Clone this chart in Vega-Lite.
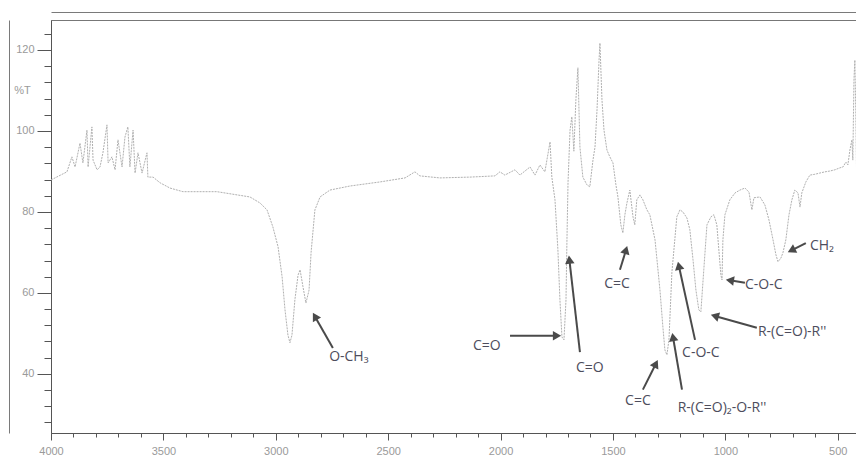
{
  "$schema": "https://vega.github.io/schema/vega-lite/v6.json",
  "width": 807,
  "height": 413,
  "autosize": {"type": "none"},
  "padding": {"left": 51, "top": 20, "right": 0, "bottom": 39},
  "background": "#ffffff",
  "config": {
    "view": {"stroke": "#777777", "strokeWidth": 1},
    "font": "Liberation Sans"
  },
  "resolve": {"axis": {"x": "independent", "y": "independent"}},
  "datasets": {
    "spectrum": [
      {"w": 4000, "T": 87.9}, {"w": 3929, "T": 89.9}, {"w": 3907, "T": 93.6}, {"w": 3893, "T": 91.1},
      {"w": 3871, "T": 97.0}, {"w": 3858, "T": 92.1}, {"w": 3840, "T": 100.2}, {"w": 3835, "T": 91.1},
      {"w": 3818, "T": 101.0}, {"w": 3813, "T": 92.8}, {"w": 3795, "T": 90.4}, {"w": 3782, "T": 91.1},
      {"w": 3769, "T": 94.6}, {"w": 3751, "T": 101.5}, {"w": 3746, "T": 92.1}, {"w": 3729, "T": 93.6},
      {"w": 3715, "T": 90.4}, {"w": 3702, "T": 97.8}, {"w": 3684, "T": 91.1}, {"w": 3671, "T": 98.5},
      {"w": 3658, "T": 101.0}, {"w": 3649, "T": 91.1}, {"w": 3635, "T": 100.2}, {"w": 3626, "T": 89.6},
      {"w": 3613, "T": 94.6}, {"w": 3595, "T": 89.6}, {"w": 3573, "T": 94.6}, {"w": 3569, "T": 88.6},
      {"w": 3546, "T": 88.6}, {"w": 3515, "T": 87.2}, {"w": 3471, "T": 85.9}, {"w": 3413, "T": 85.0},
      {"w": 3262, "T": 85.0}, {"w": 3115, "T": 83.7}, {"w": 3070, "T": 82.2}, {"w": 3039, "T": 80.5},
      {"w": 3013, "T": 76.3}, {"w": 2990, "T": 71.4}, {"w": 2972, "T": 64.0}, {"w": 2959, "T": 55.8},
      {"w": 2946, "T": 49.6}, {"w": 2937, "T": 47.7}, {"w": 2928, "T": 49.6}, {"w": 2915, "T": 58.3},
      {"w": 2901, "T": 64.4}, {"w": 2892, "T": 65.7}, {"w": 2879, "T": 61.5}, {"w": 2866, "T": 57.5},
      {"w": 2852, "T": 60.7}, {"w": 2843, "T": 70.0}, {"w": 2826, "T": 80.5}, {"w": 2803, "T": 83.7},
      {"w": 2759, "T": 85.4}, {"w": 2670, "T": 86.4}, {"w": 2537, "T": 87.4}, {"w": 2425, "T": 88.4},
      {"w": 2381, "T": 89.9}, {"w": 2359, "T": 88.9}, {"w": 2270, "T": 88.4}, {"w": 2136, "T": 88.6},
      {"w": 2025, "T": 88.9}, {"w": 2003, "T": 89.9}, {"w": 1981, "T": 89.1}, {"w": 1936, "T": 90.4},
      {"w": 1914, "T": 89.1}, {"w": 1869, "T": 91.1}, {"w": 1847, "T": 89.1}, {"w": 1825, "T": 91.6},
      {"w": 1803, "T": 89.9}, {"w": 1780, "T": 97.3}, {"w": 1772, "T": 88.6}, {"w": 1758, "T": 83.0},
      {"w": 1745, "T": 70.6}, {"w": 1736, "T": 58.3}, {"w": 1727, "T": 49.1}, {"w": 1718, "T": 48.4},
      {"w": 1709, "T": 58.3}, {"w": 1705, "T": 72.3}, {"w": 1700, "T": 87.2}, {"w": 1691, "T": 100.2},
      {"w": 1683, "T": 103.5}, {"w": 1674, "T": 95.0}, {"w": 1665, "T": 107.7}, {"w": 1656, "T": 115.6},
      {"w": 1647, "T": 96.0}, {"w": 1634, "T": 88.6}, {"w": 1616, "T": 86.7}, {"w": 1603, "T": 86.2},
      {"w": 1589, "T": 92.8}, {"w": 1580, "T": 96.0}, {"w": 1571, "T": 105.2}, {"w": 1562, "T": 117.5},
      {"w": 1558, "T": 121.7}, {"w": 1549, "T": 107.7}, {"w": 1540, "T": 100.2}, {"w": 1527, "T": 95.3},
      {"w": 1514, "T": 93.6}, {"w": 1500, "T": 92.1}, {"w": 1487, "T": 86.7}, {"w": 1478, "T": 83.7},
      {"w": 1465, "T": 76.8}, {"w": 1456, "T": 74.8}, {"w": 1447, "T": 79.3}, {"w": 1438, "T": 82.2},
      {"w": 1425, "T": 85.4}, {"w": 1411, "T": 78.8}, {"w": 1403, "T": 76.8}, {"w": 1394, "T": 83.0},
      {"w": 1380, "T": 84.2}, {"w": 1367, "T": 83.0}, {"w": 1349, "T": 80.5}, {"w": 1336, "T": 79.3},
      {"w": 1313, "T": 73.1}, {"w": 1291, "T": 60.7}, {"w": 1278, "T": 51.6}, {"w": 1269, "T": 45.9},
      {"w": 1260, "T": 44.7}, {"w": 1251, "T": 48.4}, {"w": 1238, "T": 65.0}, {"w": 1225, "T": 73.1},
      {"w": 1216, "T": 78.8}, {"w": 1202, "T": 80.5}, {"w": 1189, "T": 80.0}, {"w": 1171, "T": 78.5},
      {"w": 1158, "T": 75.6}, {"w": 1144, "T": 68.2}, {"w": 1131, "T": 60.7}, {"w": 1118, "T": 55.8},
      {"w": 1109, "T": 55.3}, {"w": 1096, "T": 65.7}, {"w": 1082, "T": 76.8}, {"w": 1064, "T": 78.8},
      {"w": 1051, "T": 79.3}, {"w": 1038, "T": 76.8}, {"w": 1029, "T": 70.6}, {"w": 1020, "T": 64.4},
      {"w": 1015, "T": 63.2}, {"w": 1011, "T": 73.1}, {"w": 1002, "T": 79.3}, {"w": 980, "T": 83.0},
      {"w": 957, "T": 84.7}, {"w": 935, "T": 85.4}, {"w": 913, "T": 85.9}, {"w": 895, "T": 84.9},
      {"w": 882, "T": 80.5}, {"w": 873, "T": 83.5}, {"w": 846, "T": 83.7}, {"w": 824, "T": 81.7},
      {"w": 806, "T": 78.0}, {"w": 788, "T": 73.1}, {"w": 775, "T": 69.4}, {"w": 766, "T": 67.7},
      {"w": 753, "T": 68.6}, {"w": 744, "T": 69.9}, {"w": 731, "T": 73.1}, {"w": 717, "T": 79.3},
      {"w": 704, "T": 83.0}, {"w": 691, "T": 85.4}, {"w": 677, "T": 84.7}, {"w": 668, "T": 81.2},
      {"w": 660, "T": 84.7}, {"w": 642, "T": 87.4}, {"w": 624, "T": 89.1}, {"w": 602, "T": 89.3},
      {"w": 580, "T": 89.6}, {"w": 557, "T": 89.9}, {"w": 535, "T": 90.1}, {"w": 513, "T": 90.4},
      {"w": 490, "T": 90.9}, {"w": 477, "T": 91.1}, {"w": 464, "T": 92.3}, {"w": 455, "T": 91.6},
      {"w": 446, "T": 95.3}, {"w": 437, "T": 97.8}, {"w": 433, "T": 92.8}, {"w": 428, "T": 112.6},
      {"w": 424, "T": 117.5}, {"w": 420, "T": 105.2}, {"w": 415, "T": 83.7}
    ],
    "arrows": [
      {"label": "O-CH₃", "w": 2826, "T": 54.2, "w2": 2746, "T2": 46.4, "angle": 330},
      {"label": "C=O a", "w": 1749, "T": 49.4, "w2": 1958, "T2": 49.4, "angle": 90},
      {"label": "C=O b", "w": 1694, "T": 68.2, "w2": 1647, "T2": 45.4, "angle": 353.5},
      {"label": "C=C a", "w": 1442, "T": 70.6, "w2": 1469, "T2": 65.7, "angle": 16.3},
      {"label": "C=C b", "w": 1309, "T": 42.5, "w2": 1367, "T2": 36.1, "angle": 26.6},
      {"label": "ester", "w": 1233, "T": 49.1, "w2": 1193, "T2": 36.1, "angle": 350},
      {"label": "C-O-C a", "w": 1207, "T": 66.7, "w2": 1135, "T2": 48.4, "angle": 347.7},
      {"label": "ketone", "w": 1047, "T": 54.3, "w2": 860, "T2": 51.4, "angle": 285.8},
      {"label": "C-O-C b", "w": 980, "T": 63.1, "w2": 913, "T2": 62.5, "angle": 279},
      {"label": "CH₂", "w": 706, "T": 70.5, "w2": 642, "T2": 72.3, "angle": 243.4}
    ],
    "labels": [
      {"text": "O-CH₃", "w": 2675, "T": 44.2, "anchor": "center"},
      {"text": "C=O", "w": 2061, "T": 46.9, "anchor": "center"},
      {"text": "C=O", "w": 1603, "T": 41.5, "anchor": "center"},
      {"text": "C=C", "w": 1482, "T": 62.2, "anchor": "center"},
      {"text": "C=C", "w": 1389, "T": 33.3, "anchor": "center"},
      {"text": "R-(C=O)₂-O-R''", "w": 1015, "T": 31.6, "anchor": "center"},
      {"text": "C-O-C", "w": 1109, "T": 45.2, "anchor": "center"},
      {"text": "R-(C=O)-R''", "w": 855, "T": 50.4, "anchor": "left"},
      {"text": "C-O-C", "w": 913, "T": 62.0, "anchor": "left"},
      {"text": "CH₂", "w": 624, "T": 71.6, "anchor": "left"}
    ]
  },
  "encoding": {
    "x": {
      "field": "w", "type": "quantitative",
      "scale": {"domain": [4000, 410], "nice": false, "zero": false},
      "axis": null
    },
    "y": {
      "field": "T", "type": "quantitative",
      "scale": {"domain": [25.4, 127.4], "nice": false, "zero": false},
      "axis": null
    }
  },
  "layer": [
    {
      "data": {"name": "spectrum"},
      "mark": {"type": "line", "strokeOpacity": 0},
      "encoding": {
        "x": {
          "field": "w", "type": "quantitative",
          "axis": {"orient": "top", "offset": 8, "title": null, "labels": false, "ticks": false, "grid": false, "domainColor": "#7a7a7a", "domainWidth": 1}
        },
        "y": {
          "field": "T", "type": "quantitative",
          "axis": {"orient": "left", "offset": 42, "title": null, "labels": false, "ticks": false, "grid": false, "domainColor": "#7a7a7a", "domainWidth": 1}
        }
      }
    },
    {
      "data": {"name": "spectrum"},
      "mark": {"type": "line", "color": "#b0b0b0", "strokeWidth": 1, "strokeDash": [2, 1], "clip": true},
      "encoding": {
        "x": {
          "field": "w", "type": "quantitative",
          "axis": {
            "orient": "bottom",
            "title": null,
            "values": [4000, 3900, 3800, 3700, 3600, 3500, 3400, 3300, 3200, 3100, 3000, 2900, 2800, 2700, 2600, 2500, 2400, 2300, 2200, 2100, 2000, 1900, 1800, 1700, 1600, 1500, 1400, 1300, 1200, 1100, 1000, 900, 800, 700, 600, 500],
            "labelExpr": "datum.value % 500 === 0 ? datum.value : ''",
            "grid": false,
            "domainColor": "#555555",
            "tickColor": "#555555",
            "tickSize": {"condition": {"test": "datum.value % 500 === 0", "value": 7}, "value": 4},
            "labelColor": "#9a9a9a",
            "labelFontSize": 11,
            "labelPadding": 5,
            "labelFlush": false,
            "labelOverlap": false
          }
        },
        "y": {
          "field": "T", "type": "quantitative",
          "axis": {
            "orient": "left",
            "title": "%T",
            "titleAngle": 0,
            "titleX": -29,
            "titleY": 70,
            "titleAlign": "center",
            "titleBaseline": "middle",
            "titleFontSize": 11,
            "titleFontWeight": "normal",
            "titleColor": "#9a9a9a",
            "values": [28, 32, 36, 40, 44, 48, 52, 56, 60, 64, 68, 72, 76, 80, 84, 88, 92, 96, 100, 104, 108, 112, 116, 120, 124],
            "labelExpr": "datum.value % 20 === 0 ? datum.value : ''",
            "grid": false,
            "domainColor": "#555555",
            "tickColor": "#555555",
            "tickSize": {"condition": {"test": "datum.value % 20 === 0", "value": 14}, "value": 7},
            "labelColor": "#9a9a9a",
            "labelFontSize": 11,
            "labelPadding": 3,
            "labelOverlap": false
          }
        }
      }
    },
    {
      "data": {"name": "arrows"},
      "mark": {"type": "rule", "color": "#4a4a4a", "strokeWidth": 2},
      "encoding": {
        "x2": {"field": "w2"},
        "y2": {"field": "T2"}
      }
    },
    {
      "data": {"name": "arrows"},
      "mark": {"type": "point", "shape": "triangle-up", "filled": true, "color": "#4a4a4a", "size": 90, "opacity": 1},
      "encoding": {
        "angle": {"field": "angle", "type": "quantitative", "scale": null}
      }
    },
    {
      "data": {"name": "labels"},
      "transform": [{"filter": "datum.anchor === 'center'"}],
      "mark": {"type": "text", "font": "Open Sans", "fontSize": 14, "color": "#4d4d5c", "align": "center", "baseline": "middle"},
      "encoding": {
        "text": {"field": "text"}
      }
    },
    {
      "data": {"name": "labels"},
      "transform": [{"filter": "datum.anchor === 'left'"}],
      "mark": {"type": "text", "font": "Open Sans", "fontSize": 14, "color": "#4d4d5c", "align": "left", "baseline": "middle"},
      "encoding": {
        "text": {"field": "text"}
      }
    }
  ]
}
